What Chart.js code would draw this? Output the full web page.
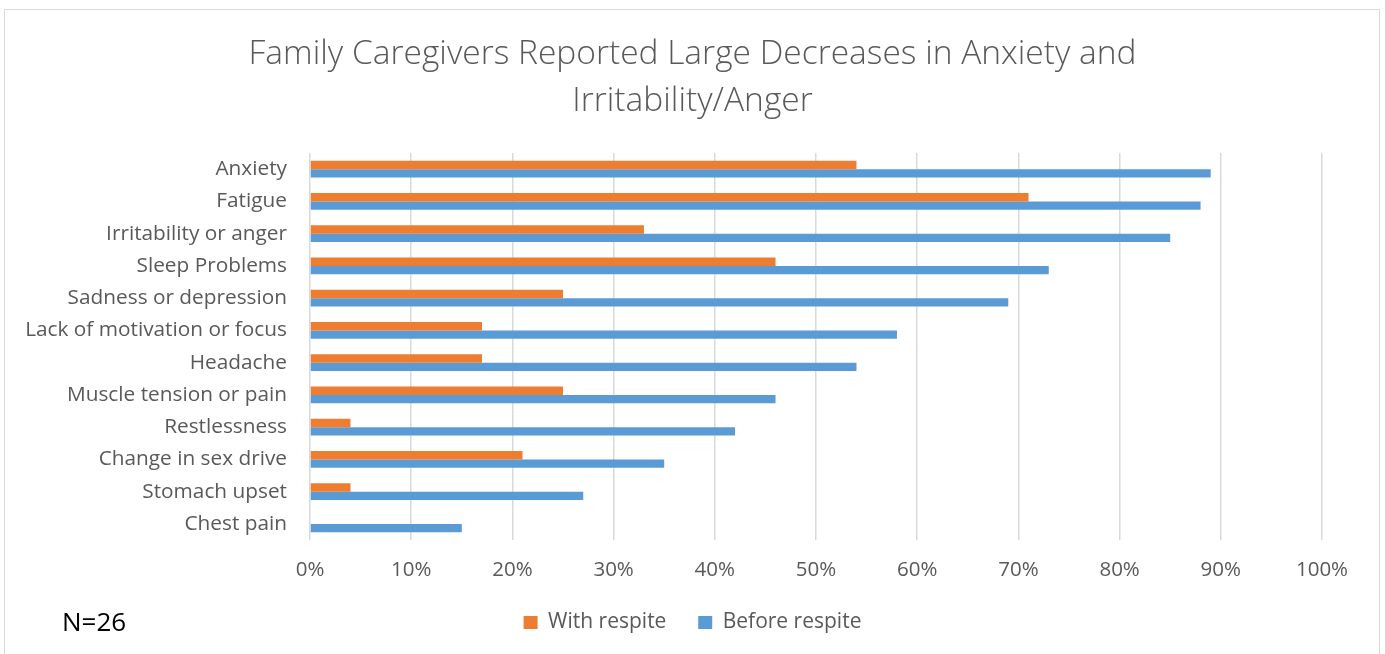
<!DOCTYPE html>
<html>
<head>
<meta charset="utf-8">
<script src="https://cdn.jsdelivr.net/npm/chart.js@4.4.1/dist/chart.umd.min.js"></script>
<style>
  html, body { margin:0; padding:0; background:#fff; width:1385px; height:654px; overflow:hidden; }
  #frame { position:absolute; left:4px; top:9px; width:1376px; height:700px; border:1px solid #D9D9D9; box-sizing:border-box; }
  #wrap { position:absolute; left:0; top:0; width:1385px; height:654px; }
  #note { position:absolute; left:62px; top:604px; font-family:"Open Sans", "Liberation Sans", sans-serif; font-size:26px; color:#000; line-height:34px; }
</style>
</head>
<body>
<div id="frame"></div>
<div id="wrap"><canvas id="c" width="1385" height="654"></canvas></div>
<div id="note">N=26</div>
<script>
const categories = ["Anxiety","Fatigue","Irritability or anger","Sleep Problems","Sadness or depression","Lack of motivation or focus","Headache","Muscle tension or pain","Restlessness","Change in sex drive","Stomach upset","Chest pain"];
const withRespite = [54,71,33,46,25,17,17,25,4,21,4,0];
const beforeRespite = [89,88,85,73,69,58,54,46,42,35,27,15];
const titleLines = ["Family Caregivers Reported Large Decreases in Anxiety and","Irritability/Anger"];
const seriesNames = ["With respite","Before respite"];
const xMax = 100, xStep = 10;

const FONT = "'Open Sans', 'Liberation Sans', sans-serif";
const GREY = "#595959";

new Chart(document.getElementById('c'), {
  type: 'bar',
  data: {
    labels: categories,
    datasets: [
      { label: seriesNames[0], data: withRespite, backgroundColor: '#ED7D31', barPercentage: 1, categoryPercentage: 0.52 },
      { label: seriesNames[1], data: beforeRespite, backgroundColor: '#5B9BD5', barPercentage: 1, categoryPercentage: 0.52 }
    ]
  },
  options: {
    indexAxis: 'y',
    responsive: false,
    animation: false,
    devicePixelRatio: 1,
    layout: { padding: { left: 0, right: 0, top: 31, bottom: 11 } },
    plugins: {
      title: {
        display: true,
        text: titleLines,
        color: GREY,
        font: { family: FONT, size: 33.5, weight: '300', lineHeight: 1.403 },
        padding: { top: 0, bottom: 28 }
      },
      legend: {
        position: 'bottom',
        labels: {
          color: GREY,
          font: { family: FONT, size: 21, lineHeight: 1.2 },
          boxWidth: 14, boxHeight: 13,
          padding: 10,
          generateLabels: chart => {
            const items = Chart.defaults.plugins.legend.labels.generateLabels(chart);
            items.forEach((it, i) => { if (i < items.length - 1) it.text = it.text + '    '; });
            return items;
          }
        }
      },
      tooltip: { enabled: false }
    },
    scales: {
      x: {
        min: 0, max: xMax,
        ticks: { stepSize: xStep, color: GREY, font: { family: FONT, size: 20.5, lineHeight: 1.2 }, padding: 18,
                 callback: v => v + '%' },
        grid: { color: '#D9D9D9', lineWidth: 1.5, drawTicks: false },
        border: { display: false },
        afterFit: s => { s.height = 62; }
      },
      y: {
        ticks: { color: GREY, font: { family: FONT, size: 20.8 }, padding: 23 },
        grid: { display: false, drawTicks: false },
        border: { display: false },
        afterFit: s => { s.width = 310; }
      },
      yr: {
        type: 'category',
        position: 'right',
        display: true,
        ticks: { display: false },
        grid: { display: false, drawTicks: false },
        border: { display: false },
        afterFit: s => { s.width = 63; }
      }
    }
  }
});
</script>
</body>
</html>
